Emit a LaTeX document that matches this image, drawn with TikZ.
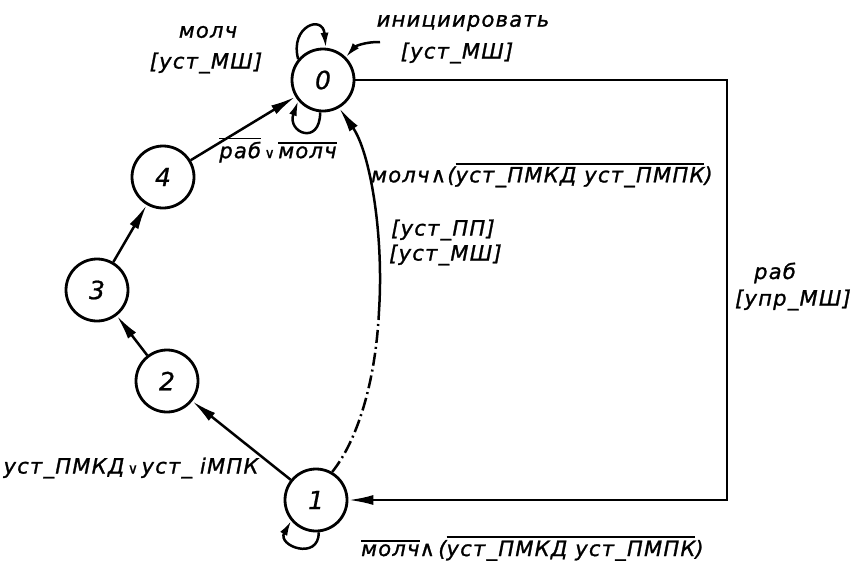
\documentclass[tikz,border=0pt]{standalone}
\usepackage{fontspec}
\usepackage{graphicx}
\usetikzlibrary{arrows.meta}
\newfontfamily\gost[ItalicFont={DejaVu Sans Oblique},LetterSpace=6,FakeBold=1.2]{DejaVu Sans}
\newfontfamily\gostn[ItalicFont={DejaVu Sans Oblique},FakeBold=0.8]{DejaVu Sans}
\newcommand\ovl[1]{\leavevmode\vbox{\hrule height 1.8pt\kern 2.5pt\hbox{#1}}}
\newcommand\orsym{{\fontsize{14}{14}\selectfont ∨}}
\newcommand\andsym{∧}
\begin{document}
\begin{tikzpicture}[x=1pt,y=-1pt,
  st/.style={circle,draw,line width=2.8pt,minimum size=62pt,inner sep=0pt,
    font=\gostn\itshape\fontsize{25}{25}\selectfont},
  lab/.style={font=\gost\itshape\fontsize{21}{24}\selectfont,inner sep=1pt},
  ed/.style={line width=2.5pt,-{Latex[length=25pt,width=10pt]}},
  lp/.style={line width=2.5pt,-{Latex[length=15pt,width=8pt]}}]
\useasboundingbox (0,0) rectangle (859,560);
% states
\node[st] (n0) at (323,80) {0};
\node[st] (n4) at (163,177) {4};
\node[st] (n3) at (97,290) {3};
\node[st] (n2) at (167,381) {2};
\node[st] (n1) at (316,500) {1};
% edges
\draw[ed] (n1) -- (n2);
\draw[ed] (n2) -- (n3);
\draw[ed] (n3) -- (n4);
\draw[ed] (n4) -- (n0);
\coordinate (c1) at (727,80);
\draw[ed] (n0) -- (c1) |- (n1);
\coordinate (m) at (379,311);
\draw[line width=2.5pt,dash pattern=on 13pt off 4pt on 2pt off 4pt]
  (n1.60) .. controls (360,437) and (376,375) .. (m);
\draw[ed] (m) .. controls (384,234) and (370,152) .. (n0.-60);
% loops
\draw[lp] (n0.140) .. controls +(105:34pt) and +(95:34pt) .. (n0.85);
\draw[lp] (n0.265) .. controls +(270:34pt) and +(250:34pt) .. (n0.220);
\draw[lp] (n1.275) .. controls +(270:29pt) and +(240:29pt) .. (n1.220);
\coordinate (ini) at (380,42);
\draw[lp] (ini) to[bend right=25] (n0.45);
% labels
\node[lab] (l0a) at (208,32) {молч};
\node[lab] (l0b) at (206,63) {[уст\_МШ]};
\node[lab] (li1) at (463,23) {инициировать};
\node[lab] (li2) at (457,53) {[уст\_МШ]};
\node[lab] (l40) at (278,150) {\ovl{раб}\,\orsym\,\ovl{молч}};
\node[lab,anchor=west] (l10a) at (370,175) {молч\andsym(\ovl{уст\_ПМКД уст\_ПМПК})};
\node[lab,anchor=west] (l10b) at (390,230) {[уст\_ПП]};
\node[lab,anchor=west] (l10c) at (388,255) {[уст\_МШ]};
\node[lab] (lr1) at (775,273) {раб};
\node[lab] (lr2) at (793,300) {[упр\_МШ]};
\node[lab] (l12) at (131,468) {уст\_ПМКД\,\orsym\,уст\_ iМПК};
\node[lab,anchor=base west] (l11) at (360,556) {\ovl{молч}\andsym\,(\ovl{уст\_ПМКД уст\_ПМПК})};
\end{tikzpicture}
\end{document}
